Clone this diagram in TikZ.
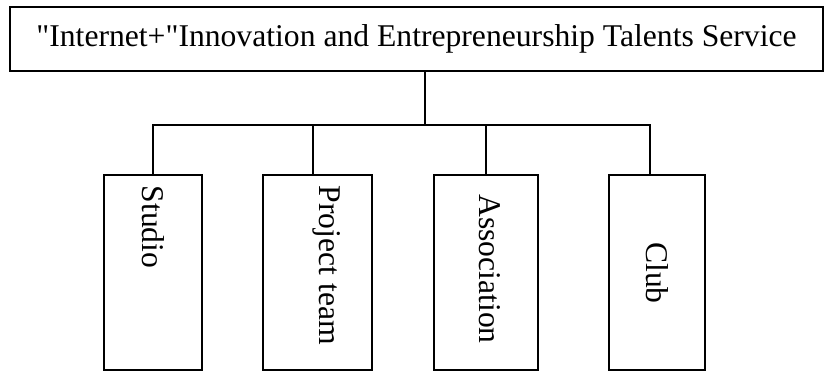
\documentclass[tikz,border=0pt]{standalone}
\usepackage{fontspec}
\setmainfont{Liberation Serif}
\usetikzlibrary{calc}

\begin{document}
\begin{tikzpicture}[x = 0.025cm, y = -0.025cm, line width = 1.1pt,
        unit/.style = {draw, rectangle, inner sep = 0, minimum height = 4.875cm},
        vtext/.style = {rotate = -90, inner sep = 0, font = \fontsize{22.5}{26}\selectfont}]

        % Define page frame
        \useasboundingbox (0,0) rectangle (826,372);

        % Head box
        \node[draw, rectangle, inner sep = 0, minimum width = 20.325cm, minimum height = 1.6cm,
              font = \fontsize{22.5}{26}\selectfont] (service) at (416.5,39)
              {\textquotedbl Internet+\textquotedbl Innovation and Entrepreneurship Talents Service};

        % Lower boxes
        \node[unit, minimum width = 2.45cm] (studio) at (153,272.5) {};
        \node[unit, minimum width = 2.725cm] (team) at (317.5,272.5) {};
        \node[unit, minimum width = 2.6cm] (assoc) at (486,272.5) {};
        \node[unit, minimum width = 2.4cm] (club) at (657,272.5) {};

        % Vertical labels
        \node[vtext, anchor = west] (studio_txt) at (153.5,185) {Studio};
        \node[vtext, anchor = west] (team_txt) at (327,185) {Project team};
        \node[vtext] (assoc_txt) at (490,269) {Association};
        \node[vtext] (club_txt) at (657,273) {Club};

        % Connectors
        \coordinate (hub) at (425,125);
        \draw (hub |- service.south) -- (hub);
        \draw (studio.north) |- (hub);
        \draw ($(team.north)+(-4.5,0)$) |- (hub);
        \draw (assoc.north) |- (hub);
        \draw ($(club.north)+(-7,0)$) |- (hub);
    \end{tikzpicture}
\end{document}
